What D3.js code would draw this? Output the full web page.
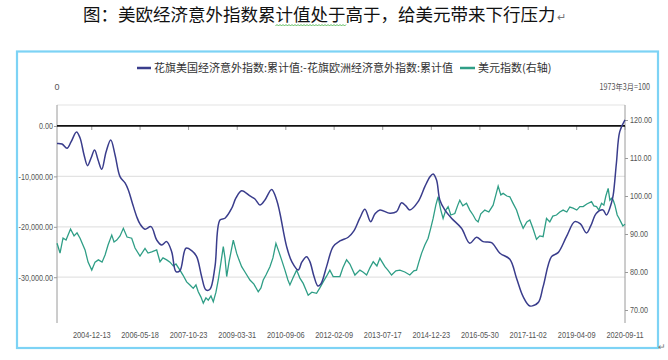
<!DOCTYPE html>
<html><head><meta charset="utf-8">
<script src="https://cdn.jsdelivr.net/npm/d3@7"></script>
<style>body{margin:0;background:#fff;} svg{display:block}</style>
</head><body><svg id="c" width="668" height="360"></svg>
<script>
const titleText = "图：美欧经济意外指数累计值处于高于，给美元带来下行压力";
const legendLabels = ["花旗美国经济意外指数:累计值:-花旗欧洲经济意外指数:累计值", "美元指数(右轴)"];
const leftUnit = "0";
const rightUnit = "1973年3月=100";
const xTickLabels = ["2004-12-13","2006-05-18","2007-10-23","2009-03-31","2010-09-06","2012-02-09","2013-07-17","2014-12-23","2016-05-30","2017-11-02","2019-04-09","2020-09-11"];
const xDomain = ["2003-12-04", "2020-09-11"];
const leftTicks = [0, -10000, -20000, -30000];
const rightTicks = [70, 80, 90, 100, 110, 120];

// 花旗美国-欧洲经济意外指数累计值 (decimal year, value)
const spreadYears = [2003.924,2004.072,2004.219,2004.337,2004.499,2004.603,2004.721,2004.824,2004.927,2005.031,2005.134,2005.243,2005.370,2005.509,2005.636,2005.783,2005.931,2006.028,2006.137,2006.276,2006.373,2006.521,2006.698,2006.866,2007.014,2007.161,2007.309,2007.436,2007.554,2007.731,2007.899,2008.047,2008.194,2008.321,2008.439,2008.587,2008.734,2008.882,2009.080,2009.206,2009.374,2009.619,2009.767,2009.915,2010.062,2010.260,2010.408,2010.505,2010.703,2010.859,2011.045,2011.154,2011.293,2011.390,2011.508,2011.626,2011.715,2011.883,2012.078,2012.276,2012.521,2012.689,2012.866,2013.013,2013.182,2013.309,2013.456,2013.751,2013.949,2014.096,2014.223,2014.341,2014.586,2014.784,2014.932,2015.029,2015.130,2015.227,2015.374,2015.572,2015.867,2016.112,2016.310,2016.505,2016.753,2017.000,2017.293,2017.491,2017.686,2017.884,2018.128,2018.276,2018.524,2018.719,2018.966,2019.211,2019.379,2019.557,2019.683,2019.851,2020.046,2020.146,2020.294,2020.347,2020.441,2020.539,2020.694];
const spreadValues = [-3470,-3570,-4420,-3170,-1190,-2380,-5750,-7870,-6350,-4760,-6740,-8590,-5160,-2780,-5750,-10050,-11300,-12690,-15070,-17990,-19430,-20480,-19970,-22610,-23600,-22940,-24930,-28890,-28690,-24250,-24730,-25920,-29880,-32520,-32380,-27900,-18640,-18300,-16320,-14280,-12830,-13880,-14480,-15670,-14670,-12590,-14670,-17310,-23930,-26970,-28560,-26970,-25920,-26910,-29750,-31730,-31330,-27900,-23930,-22800,-22070,-20820,-18240,-16520,-18980,-17450,-16660,-17310,-16990,-15210,-15860,-16660,-15010,-12040,-10110,-9520,-10710,-14670,-16660,-18300,-20290,-23260,-22070,-22940,-23140,-25240,-26430,-30200,-33850,-35690,-35040,-31870,-25920,-25120,-21950,-18980,-19430,-21220,-19830,-17310,-16660,-17650,-15270,-13680,-7340,-1130,1190];

// 美元指数 (decimal year, value)
const dxyYears = [2003.924,2004.013,2004.101,2004.190,2004.322,2004.426,2004.514,2004.603,2004.750,2004.839,2004.948,2005.045,2005.143,2005.252,2005.341,2005.429,2005.538,2005.606,2005.686,2005.783,2005.881,2005.990,2006.128,2006.226,2006.373,2006.521,2006.610,2006.719,2006.866,2006.964,2007.052,2007.161,2007.259,2007.356,2007.436,2007.554,2007.642,2007.751,2007.849,2007.946,2008.026,2008.094,2008.174,2008.242,2008.321,2008.389,2008.469,2008.537,2008.616,2008.684,2008.764,2008.832,2008.882,2008.932,2009.000,2009.059,2009.127,2009.227,2009.295,2009.374,2009.472,2009.619,2009.737,2009.864,2009.944,2010.012,2010.092,2010.210,2010.298,2010.387,2010.475,2010.555,2010.653,2010.741,2010.800,2010.889,2010.998,2011.095,2011.193,2011.272,2011.340,2011.449,2011.588,2011.685,2011.783,2011.883,2011.980,2012.078,2012.178,2012.276,2012.364,2012.473,2012.571,2012.719,2012.866,2012.955,2013.064,2013.161,2013.259,2013.368,2013.456,2013.604,2013.692,2013.801,2013.928,2014.046,2014.193,2014.341,2014.459,2014.539,2014.607,2014.687,2014.784,2014.881,2014.961,2015.029,2015.109,2015.177,2015.256,2015.324,2015.404,2015.472,2015.552,2015.670,2015.758,2015.817,2015.906,2016.015,2016.112,2016.209,2016.289,2016.357,2016.437,2016.555,2016.673,2016.800,2016.880,2016.948,2017.027,2017.095,2017.204,2017.293,2017.381,2017.491,2017.588,2017.686,2017.795,2017.884,2017.972,2018.081,2018.179,2018.276,2018.377,2018.474,2018.563,2018.672,2018.770,2018.867,2018.976,2019.065,2019.162,2019.271,2019.362,2019.459,2019.568,2019.707,2019.775,2019.855,2019.924,2020.003,2020.071,2020.130,2020.198,2020.248,2020.298,2020.346,2020.396,2020.464,2020.514,2020.594,2020.632,2020.694];
const dxyValues = [87.55,85.0,88.95,88.4,91.3,89.5,90.3,88.9,85.8,82.6,80.5,82.6,83.2,82.6,84.5,87.1,89.7,87.9,88.4,89.5,91.5,89.2,88.9,86.3,84.2,86.2,85.0,85.3,85.8,82.7,83.7,83.2,82.6,81.6,82.1,80.5,79.2,77.4,76.6,75.7,76.6,74.8,73.4,71.8,73.2,72.6,73.7,72.2,74.7,77.9,82.6,86.7,83.7,78.8,82.6,85.3,88.4,84.9,83.2,81.4,80.0,77.9,76.8,74.8,75.8,77.9,79.2,81.4,83.7,87.55,85.3,83.2,80.5,77.9,76.6,78.4,80.5,78.4,77.0,75.3,73.9,74.7,74.4,75.8,77.4,78.9,80.5,78.8,78.8,78.8,81.1,83.2,82.1,79.2,80.5,80.0,79.2,81.1,82.7,81.6,83.6,81.4,80.5,79.2,80.3,80.5,80.0,79.2,80.3,80.5,82.6,84.9,87.1,88.9,91.6,94.1,97.6,99.8,96.3,94.1,96.3,97.2,95.0,95.4,97.6,98.9,97.4,98.1,96.3,95.0,93.7,93.2,95.3,96.3,95.8,97.6,100.3,102.6,100.3,100.7,100.0,99.8,98.2,96.3,93.7,91.5,93.2,93.7,91.6,88.6,89.5,89.3,94.1,93.2,94.7,95.0,95.8,96.3,95.8,97.1,96.8,96.3,97.2,97.2,97.9,98.5,97.4,97.2,96.3,98.1,97.6,100.0,102.0,98.9,99.4,98.9,97.6,95.0,94.2,92.8,92.1,92.6];

const C = { blue: "#3a3d8c", green: "#2f9e86", grid: "#e3e3e3", axis: "#9a9a9a", text: "#555", frame: "#7dd3f5" };
const numFont = "'Liberation Sans','Arial',sans-serif";
const cjkFont = "'Noto Sans CJK SC','Noto Sans',sans-serif";

const svg = d3.select("#c");
const parse = d3.timeParse("%Y-%m-%d");
function yearToDate(y) {
  const yr = Math.floor(y);
  const a = new Date(yr, 0, 1), b = new Date(yr + 1, 0, 1);
  return new Date(a.getTime() + (y - yr) * (b - a));
}
const fmt = d3.formatLocale({decimal: ".", thousands: ",", grouping: [3], currency: ["", ""], minus: "-"}).format(",.2f");
// squeeze text horizontally to mimic the narrow numeric font
function condense(sel, k) {
  sel.each(function () {
    const w = this.getComputedTextLength();
    d3.select(this).attr("textLength", w * k).attr("lengthAdjust", "spacingAndGlyphs");
  });
}

const M = {left: 57, right: 625, top: 105, bottom: 323};
const x = d3.scaleTime().domain(xDomain.map(parse)).range([M.left, M.right]);
const yL = d3.scaleLinear().domain([-39080, 4160]).range([M.bottom, M.top]);
const yR = d3.scaleLinear().domain([66.58, 123.95]).range([M.bottom, M.top]);

// title
const title = svg.append("text").attr("x", 83).attr("y", 21)
  .attr("font-family", cjkFont).attr("font-size", 17.5).attr("fill", "#111").text(titleText);
const tw = title.node().getComputedTextLength();
svg.append("text").attr("x", 83 + tw + 1).attr("y", 21).attr("font-family", cjkFont)
  .attr("font-size", 11).attr("fill", "#777").text("↵");
// spell-check wavy underline under 计值处于
{
  const cw = tw / titleText.length;
  const x0 = 83 + cw * 11, x1 = 83 + cw * 15;
  let p = `M${x0},26`;
  for (let xx = x0, i = 0; xx < x1; xx += 1.5, i++) p += `L${xx + 1.5},${i % 2 ? 26 : 24.5}`;
  svg.append("path").attr("d", p).attr("fill", "none").attr("stroke", "#3a3").attr("stroke-width", 0.8);
}

// frame
svg.append("rect").attr("x", 17).attr("y", 51.5).attr("width", 641).attr("height", 296.5)
  .attr("fill", "none").attr("stroke", C.frame).attr("stroke-width", 2.2);
svg.append("text").attr("x", 658).attr("y", 350).attr("font-size", 9).attr("fill", "#777").text("↵");

// gridlines
const g = svg.append("g");
[...leftTicks.slice(1), yL.domain()[1]].forEach(v => {
  g.append("line").attr("x1", M.left).attr("x2", M.right).attr("y1", yL(v)).attr("y2", yL(v))
    .attr("stroke", C.grid).attr("stroke-width", 1.2);
});

// left axis
const axL = svg.append("g").attr("transform", `translate(${M.left},0)`)
  .call(d3.axisLeft(yL).tickValues(leftTicks).tickFormat(fmt).tickSize(3).tickPadding(1));
axL.select(".domain").attr("stroke", C.axis).attr("d", `M0,${M.top}V${M.bottom}`);
axL.selectAll(".tick line").attr("stroke", C.axis);
axL.selectAll("text").attr("font-family", numFont).attr("font-size", 9).attr("fill", C.text).call(condense, 0.8);

// right axis
const axR = svg.append("g").attr("transform", `translate(${M.right},0)`)
  .call(d3.axisRight(yR).tickValues(rightTicks).tickFormat(d3.format(".2f")).tickSize(3).tickPadding(2));
axR.select(".domain").attr("stroke", C.axis).attr("d", `M0,${M.top}V${M.bottom}`);
axR.selectAll(".tick line").attr("stroke", C.axis);
axR.selectAll("text").attr("font-family", numFont).attr("font-size", 9).attr("fill", C.text).call(condense, 0.8);

// x axis: ticks on zero line, labels at bottom
const tickDates = xTickLabels.map(parse);
svg.append("g").selectAll("line").data(tickDates).join("line")
  .attr("x1", d => x(d)).attr("x2", d => x(d)).attr("y1", yL(0)).attr("y2", yL(0) + 4)
  .attr("stroke", C.axis);
svg.append("g").selectAll("text").data(xTickLabels).join("text")
  .attr("x", d => x(parse(d))).attr("y", 338).attr("text-anchor", "middle")
  .attr("font-family", numFont).attr("font-size", 9).attr("fill", C.text).text(d => d)
  .call(condense, 0.82);

// zero line
svg.append("line").attr("x1", M.left).attr("x2", M.right).attr("y1", yL(0)).attr("y2", yL(0))
  .attr("stroke", "#111").attr("stroke-width", 1.8);

// unit labels
svg.append("text").attr("x", 57).attr("y", 90).attr("text-anchor", "middle")
  .attr("font-family", numFont).attr("font-size", 9).attr("fill", C.text).text(leftUnit);
svg.append("text").attr("x", 650).attr("y", 90).attr("text-anchor", "end")
  .attr("font-family", cjkFont).attr("font-size", 8.5).attr("fill", C.text).text(rightUnit)
  .call(condense, 0.85);

// lines
const dxy = dxyYears.map((t, i) => ({t: yearToDate(t), v: dxyValues[i]}));
const spread = spreadYears.map((t, i) => ({t: yearToDate(t), v: spreadValues[i]}));
svg.append("path").datum(dxy).attr("fill", "none").attr("stroke", C.green).attr("stroke-width", 1.3)
  .attr("d", d3.line().x(d => x(d.t)).y(d => yR(d.v)));
svg.append("path").datum(spread).attr("fill", "none").attr("stroke", C.blue).attr("stroke-width", 1.5)
  .attr("d", d3.line().curve(d3.curveCatmullRom.alpha(0.5)).x(d => x(d.t)).y(d => yL(d.v)));

// legend
const lg = svg.append("g").attr("font-family", cjkFont).attr("font-size", 11).attr("fill", "#333");
lg.append("line").attr("x1", 137).attr("x2", 151).attr("y1", 68).attr("y2", 68).attr("stroke", C.blue).attr("stroke-width", 2.5);
const t1 = lg.append("text").attr("x", 154).attr("y", 72).text(legendLabels[0]);
const e1 = 154 + t1.node().getComputedTextLength();
lg.append("line").attr("x1", e1 + 7).attr("x2", e1 + 22).attr("y1", 68).attr("y2", 68).attr("stroke", C.green).attr("stroke-width", 2.5);
lg.append("text").attr("x", e1 + 25).attr("y", 72).text(legendLabels[1]);
</script></body></html>
